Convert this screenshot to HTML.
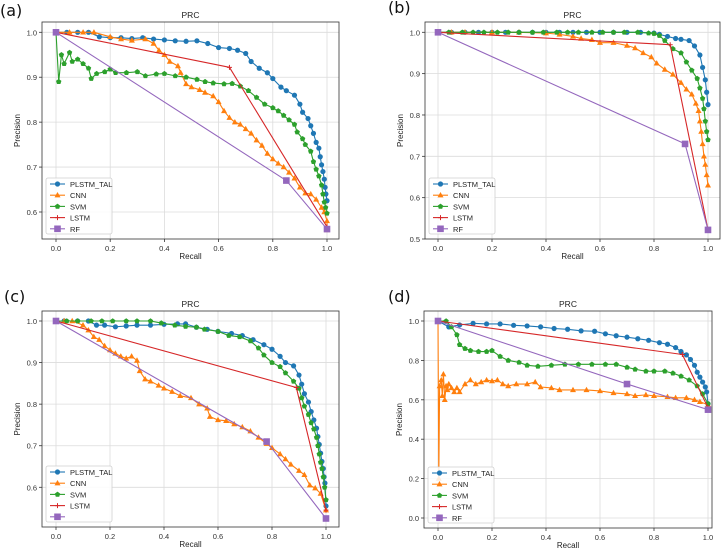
<!DOCTYPE html>
<html><head><meta charset="utf-8"><style>
html,body{margin:0;padding:0;background:#fff;}
svg{display:block;font-family:"Liberation Sans","DejaVu Sans",sans-serif;}
</style></head><body>
<svg id="fig" width="722" height="548" viewBox="0 0 722 548" xmlns="http://www.w3.org/2000/svg"></svg>
<script>
// ---- data (recall arrays / precision arrays) ----
const aPlstmX=[0,0.04,0.08,0.12,0.16,0.2,0.24,0.28,0.32,0.36,0.4,0.44,0.48,0.52,0.56,0.6,0.64,0.67,0.7,0.72,0.75,0.78,0.8,0.83,0.85,0.88,0.9,0.91,0.93,0.94,0.95,0.96,0.97,0.975,0.98,0.985,0.99,0.993,0.996,1.0];
const aPlstmY=[1,1,1,1,0.99,0.988,0.988,0.986,0.988,0.985,0.983,0.981,0.98,0.981,0.975,0.966,0.964,0.96,0.953,0.935,0.92,0.91,0.897,0.878,0.87,0.86,0.84,0.822,0.808,0.792,0.775,0.755,0.742,0.723,0.705,0.69,0.673,0.655,0.64,0.625];
const aCnnX=[0,0.05,0.1,0.14,0.2,0.24,0.28,0.33,0.36,0.38,0.4,0.42,0.45,0.46,0.48,0.5,0.53,0.55,0.58,0.6,0.62,0.64,0.66,0.68,0.7,0.72,0.74,0.76,0.78,0.8,0.82,0.84,0.86,0.88,0.9,0.92,0.94,0.96,0.98,0.99,1.0,1.0];
const aCnnY=[1,1,1,1,0.99,0.985,0.982,0.985,0.975,0.96,0.95,0.935,0.925,0.91,0.885,0.878,0.872,0.866,0.858,0.845,0.825,0.81,0.8,0.795,0.785,0.775,0.76,0.748,0.73,0.718,0.708,0.7,0.688,0.675,0.655,0.642,0.64,0.628,0.61,0.6,0.58,0.56];
const aSvmX=[0,0.01,0.02,0.03,0.05,0.06,0.08,0.1,0.12,0.13,0.15,0.18,0.2,0.22,0.26,0.3,0.33,0.37,0.4,0.44,0.48,0.52,0.55,0.58,0.62,0.65,0.68,0.71,0.74,0.77,0.8,0.82,0.84,0.86,0.88,0.89,0.91,0.92,0.94,0.95,0.96,0.97,0.98,0.985,0.99,0.995,1.0];
const aSvmY=[1,0.89,0.95,0.93,0.955,0.935,0.94,0.93,0.92,0.897,0.908,0.912,0.918,0.91,0.91,0.912,0.903,0.907,0.908,0.903,0.9,0.895,0.89,0.887,0.885,0.886,0.88,0.87,0.855,0.84,0.832,0.825,0.815,0.805,0.795,0.778,0.763,0.75,0.735,0.712,0.695,0.68,0.66,0.64,0.622,0.61,0.597];
const aLstmX=[0,0.64,1], aLstmY=[1,0.922,0.567];
const aRfX=[0,0.85,1], aRfY=[1,0.67,0.562];

const bPlstmX=[0,0.05,0.1,0.15,0.2,0.25,0.3,0.35,0.4,0.45,0.5,0.55,0.6,0.65,0.7,0.75,0.8,0.82,0.85,0.88,0.9,0.93,0.95,0.97,0.98,0.99,0.995,1.0];
const bPlstmY=[1,1,1,1,1,1,1,1,1,1,1,1,1,1,1,1,0.998,0.995,0.99,0.985,0.983,0.98,0.967,0.945,0.915,0.885,0.855,0.825];
const bCnnX=[0,0.05,0.1,0.2,0.3,0.4,0.45,0.5,0.53,0.57,0.6,0.65,0.7,0.73,0.76,0.79,0.81,0.84,0.87,0.9,0.92,0.94,0.955,0.965,0.97,0.975,0.98,0.985,0.99,0.995,1.0];
const bCnnY=[1,1,1,1,1,0.998,0.995,0.99,0.985,0.982,0.975,0.975,0.968,0.962,0.95,0.94,0.925,0.91,0.898,0.878,0.862,0.85,0.828,0.81,0.785,0.76,0.73,0.7,0.68,0.655,0.63];
const bSvmX=[0,0.04,0.09,0.13,0.17,0.22,0.26,0.3,0.35,0.39,0.44,0.48,0.52,0.57,0.61,0.65,0.69,0.74,0.78,0.8,0.82,0.84,0.87,0.9,0.92,0.94,0.96,0.97,0.98,0.985,0.99,0.995,1.0];
const bSvmY=[1,1,1,1,1,1,1,1,1,1,1,1,1,1,1,1,1,1,0.998,0.997,0.992,0.98,0.96,0.95,0.928,0.908,0.888,0.865,0.84,0.815,0.785,0.76,0.74];
const bLstmX=[0,0.86,1], bLstmY=[1,0.97,0.522];
const bRfX=[0,0.915,1], bRfY=[1,0.73,0.522];

const cPlstmX=[0,0.03,0.08,0.12,0.15,0.18,0.22,0.26,0.3,0.35,0.4,0.45,0.48,0.52,0.56,0.6,0.65,0.69,0.73,0.77,0.8,0.83,0.85,0.88,0.9,0.91,0.92,0.935,0.945,0.955,0.965,0.97,0.975,0.98,0.985,0.99,0.993,0.996,1.0];
const cPlstmY=[1,1,1,1,0.99,0.99,0.986,0.988,0.99,0.99,0.992,0.993,0.993,0.985,0.98,0.975,0.97,0.965,0.955,0.943,0.932,0.915,0.9,0.892,0.87,0.848,0.825,0.805,0.782,0.762,0.742,0.722,0.703,0.682,0.662,0.645,0.625,0.61,0.555];
const cCnnX=[0,0.03,0.06,0.1,0.12,0.14,0.16,0.18,0.2,0.22,0.24,0.26,0.28,0.3,0.31,0.33,0.35,0.38,0.4,0.43,0.46,0.5,0.53,0.56,0.57,0.6,0.63,0.66,0.69,0.72,0.75,0.78,0.8,0.83,0.85,0.87,0.9,0.92,0.94,0.96,0.98,1.0];
const cCnnY=[1,1,1,0.99,0.978,0.962,0.955,0.94,0.93,0.922,0.915,0.91,0.915,0.905,0.88,0.86,0.855,0.845,0.838,0.83,0.82,0.815,0.8,0.79,0.77,0.762,0.76,0.752,0.745,0.735,0.72,0.705,0.695,0.68,0.668,0.655,0.64,0.63,0.605,0.598,0.585,0.545];
const cSvmX=[0,0.04,0.08,0.13,0.17,0.21,0.26,0.3,0.35,0.39,0.44,0.48,0.52,0.55,0.6,0.64,0.68,0.72,0.75,0.77,0.8,0.83,0.85,0.88,0.9,0.91,0.92,0.935,0.945,0.955,0.965,0.97,0.975,0.98,0.985,0.99,0.995,1.0];
const cSvmY=[1,1,1,1,1,1,1,1,1,0.995,0.99,0.987,0.985,0.98,0.975,0.965,0.962,0.952,0.935,0.918,0.9,0.89,0.875,0.855,0.838,0.815,0.795,0.775,0.755,0.74,0.72,0.7,0.68,0.66,0.645,0.625,0.6,0.57];
const cLstmX=[0,0.89,1], cLstmY=[1,0.84,0.545];
const cRfX=[0,0.78,1], cRfY=[1,0.71,0.525];

const dPlstmX=[0,0.04,0.08,0.13,0.18,0.23,0.28,0.33,0.38,0.43,0.48,0.53,0.58,0.62,0.66,0.7,0.74,0.78,0.82,0.85,0.88,0.9,0.92,0.935,0.95,0.96,0.97,0.98,0.99,0.995,1.0];
const dPlstmY=[1,0.97,0.98,0.988,0.985,0.985,0.978,0.975,0.97,0.962,0.958,0.95,0.948,0.935,0.925,0.918,0.91,0.902,0.89,0.882,0.865,0.845,0.828,0.805,0.775,0.74,0.715,0.69,0.665,0.64,0.58];
const dCnnX=[0,0.003,0.006,0.012,0.016,0.02,0.025,0.03,0.035,0.04,0.05,0.06,0.07,0.08,0.1,0.12,0.14,0.16,0.18,0.2,0.22,0.24,0.26,0.29,0.33,0.36,0.38,0.42,0.45,0.5,0.55,0.6,0.65,0.7,0.73,0.77,0.8,0.85,0.88,0.92,0.95,0.97,1.0];
const dCnnY=[1,0.2,0.67,0.7,0.62,0.73,0.6,0.67,0.65,0.68,0.66,0.64,0.66,0.64,0.68,0.7,0.68,0.69,0.7,0.695,0.7,0.68,0.67,0.68,0.68,0.69,0.665,0.66,0.65,0.65,0.65,0.645,0.635,0.63,0.62,0.625,0.62,0.615,0.61,0.61,0.6,0.59,0.575];
const dSvmX=[0,0.03,0.05,0.07,0.08,0.1,0.12,0.15,0.18,0.2,0.23,0.26,0.3,0.33,0.37,0.42,0.47,0.52,0.57,0.62,0.66,0.7,0.73,0.77,0.8,0.84,0.87,0.9,0.93,0.96,0.98,1.0];
const dSvmY=[1,1,0.97,0.93,0.88,0.86,0.85,0.845,0.845,0.85,0.82,0.8,0.79,0.775,0.77,0.775,0.78,0.78,0.78,0.78,0.78,0.765,0.755,0.745,0.745,0.745,0.735,0.72,0.7,0.67,0.63,0.58];
const dLstmX=[0,0.905,1], dLstmY=[1,0.83,0.56];
const dRfX=[0,0.7,1], dRfY=[1,0.68,0.55];

const xTicks=[0,0.2,0.4,0.6,0.8,1.0];
const xTickLabels=["0.0","0.2","0.4","0.6","0.8","1.0"];
const yTicksA=[0.6,0.7,0.8,0.9,1.0], yTicksB=[0.5,0.6,0.7,0.8,0.9,1.0], yTicksD=[0,0.2,0.4,0.6,0.8,1.0];
const seriesNames=["PLSTM_TAL","CNN","SVM","LSTM","RF"];

const NS="http://www.w3.org/2000/svg";
const fig=document.getElementById('fig');
const COLORS=["#1f77b4","#ff7f0e","#2ca02c","#d62728","#9467bd"];
function mk(tag,attrs,parent){const e=document.createElementNS(NS,tag);for(const k in attrs)e.setAttribute(k,attrs[k]);(parent||fig).appendChild(e);return e;}

function marker(g,kind,px,py,color){
  let e;
  if(kind===0){e=mk('circle',{cx:px,cy:py,r:2.6,fill:color},g);}
  else if(kind===1){e=mk('polygon',{points:`${px},${py-3.2} ${px-3},${py+2.2} ${px+3},${py+2.2}`,fill:color},g);}
  else if(kind===2){e=mk('polygon',{points:`${px},${py-2.8} ${px+2.7},${py-0.8} ${px+1.7},${py+2.3} ${px-1.7},${py+2.3} ${px-2.7},${py-0.8}`,fill:color},g);}
  else if(kind===3){e=mk('path',{d:`M${px-2.5},${py}H${px+2.5}M${px},${py-2.5}V${py+2.5}`,stroke:color,'stroke-width':1},g);}
  else {e=mk('rect',{x:px-3.3,y:py-3.3,width:6.6,height:6.6,fill:color},g);}
  
  
}

function panel(cfg){
  const {id,box,x0,x1,yv0,yp0,yv1,yp1,yTicks,series,label,lab,showRfLabel}=cfg;
  const g=mk('g',{});
  
  
  const sx=v=>x0+(x1-x0)*v;
  const sy=v=>yp0+(yp1-yp0)*(v-yv0)/(yv1-yv0);
  const clipId='clip'+id;
  const cp=mk('clipPath',{id:clipId},g);mk('rect',{x:box.l,y:box.t,width:box.r-box.l,height:box.b-box.t},cp);
  xTicks.forEach((t,i)=>{
    const l=mk('line',{x1:sx(t),x2:sx(t),y1:box.t,y2:box.b,stroke:'#dcdcdc','stroke-width':0.8},g);
    
    mk('line',{x1:sx(t),x2:sx(t),y1:box.b,y2:box.b+3,stroke:'#333','stroke-width':0.8},g);
    const tx=mk('text',{x:sx(t),y:box.b+12,'font-size':7.5,'text-anchor':'middle',fill:'#333'},g);tx.textContent=xTickLabels[i];
    
  });
  yTicks.forEach(t=>{
    const l=mk('line',{x1:box.l,x2:box.r,y1:sy(t),y2:sy(t),stroke:'#dcdcdc','stroke-width':0.8},g);
    
    mk('line',{x1:box.l-3,x2:box.l,y1:sy(t),y2:sy(t),stroke:'#333','stroke-width':0.8},g);
    const tx=mk('text',{x:box.l-5,y:sy(t)+3,'font-size':7.5,'text-anchor':'end',fill:'#333'},g);tx.textContent=t.toFixed(1);
    
  });
  const sg=mk('g',{'clip-path':`url(#${clipId})`},g);
  series.forEach((s,k)=>{
    const [xs,ys]=s;
    const d=xs.map((v,i)=>(i?'L':'M')+sx(v).toFixed(2)+','+sy(ys[i]).toFixed(2)).join('');
    const p=mk('path',{d,fill:'none',stroke:COLORS[k],'stroke-width':1.1,'stroke-linejoin':'round'},sg);
    
    
    xs.forEach((v,i)=>marker(sg,k,sx(v),sy(ys[i]),COLORS[k]));
  });
  const fr=mk('rect',{x:box.l,y:box.t,width:box.r-box.l,height:box.b-box.t,fill:'none',stroke:'#333','stroke-width':0.8},g);
  
  const cx=(box.l+box.r)/2;
  const ti=mk('text',{x:cx,y:box.t-4,'font-size':8.5,'text-anchor':'middle',fill:'#222'},g);ti.textContent='PRC';
  
  const xl=mk('text',{x:cx,y:box.b+20,'font-size':8,'text-anchor':'middle',fill:'#222'},g);xl.textContent='Recall';
  
  const yx=box.l-22, yy=(box.t+box.b)/2;
  const yl=mk('text',{x:yx,y:yy,'font-size':8,'text-anchor':'middle',fill:'#222',transform:`rotate(-90 ${yx} ${yy})`},g);yl.textContent='Precision';
  
  const pl=mk('text',{x:lab[0],y:lab[1],'font-size':16,fill:'#111','font-family':'DejaVu Sans, sans-serif'},g);pl.textContent=label;
  
  const lg=mk('g',{},g);
  
  const lx=box.l+4, lh=56, ly=box.b-5-lh;
  mk('rect',{x:lx,y:ly,width:66,height:lh,fill:'#fff','fill-opacity':0.85,stroke:'#d0d0d0','stroke-width':0.8,rx:2},lg);
  seriesNames.forEach((n,k)=>{
    const ey=ly+6+k*11.2;
    const e=mk('g',{},lg);
    
    mk('line',{x1:lx+4,x2:lx+19,y1:ey,y2:ey,stroke:COLORS[k],'stroke-width':1.1},e);
    marker(e,k,lx+11.5,ey,COLORS[k]);
    if(k<4||showRfLabel){const t=mk('text',{x:lx+24,y:ey+3,'font-size':7.5,fill:'#222'},e);t.textContent=n;}
  });
}

panel({id:'a',box:{l:42,r:339,t:22,b:239},x0:56,x1:327,yv0:1.0,yp0:32.3,yv1:0.6,yp1:212,yTicks:yTicksA,
  series:[[aPlstmX,aPlstmY],[aCnnX,aCnnY],[aSvmX,aSvmY],[aLstmX,aLstmY],[aRfX,aRfY]],label:'(a)',lab:[0,16],showRfLabel:true});
panel({id:'b',box:{l:425,r:720,t:22,b:239},x0:438,x1:708,yv0:1.0,yp0:32.3,yv1:0.5,yp1:239,yTicks:yTicksB,
  series:[[bPlstmX,bPlstmY],[bCnnX,bCnnY],[bSvmX,bSvmY],[bLstmX,bLstmY],[bRfX,bRfY]],label:'(b)',lab:[388,13],showRfLabel:true});
panel({id:'c',box:{l:42,r:339,t:311,b:527},x0:56,x1:326,yv0:1.0,yp0:321,yv1:0.6,yp1:487.3,yTicks:yTicksA,
  series:[[cPlstmX,cPlstmY],[cCnnX,cCnnY],[cSvmX,cSvmY],[cLstmX,cLstmY],[cRfX,cRfY]],label:'(c)',lab:[4,302],showRfLabel:false});
panel({id:'d',box:{l:424,r:712,t:311,b:528},x0:438,x1:708,yv0:1.0,yp0:321,yv1:0.0,yp1:518,yTicks:yTicksD,
  series:[[dPlstmX,dPlstmY],[dCnnX,dCnnY],[dSvmX,dSvmY],[dLstmX,dLstmY],[dRfX,dRfY]],label:'(d)',lab:[388,302],showRfLabel:true});
</script>
</body></html>
